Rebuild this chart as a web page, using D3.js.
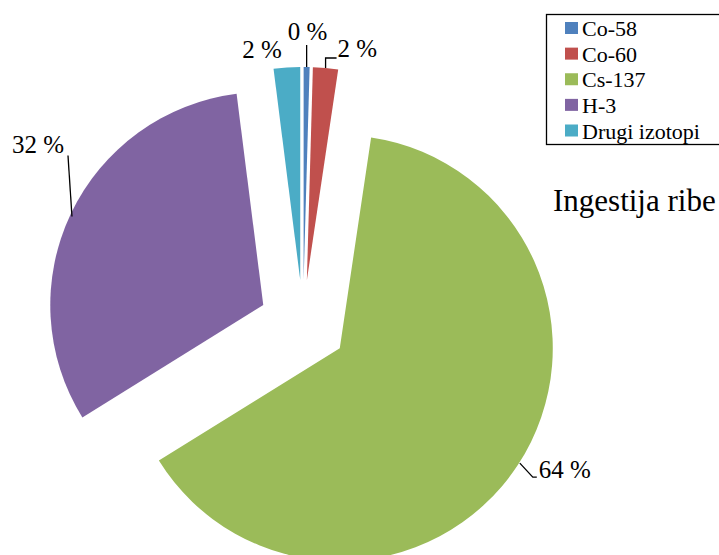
<!DOCTYPE html>
<html>
<head>
<meta charset="utf-8">
<script src="https://cdn.jsdelivr.net/npm/d3@7"></script>
<style>
  body { margin: 0; background: #fff; }
  svg { display: block; }
</style>
</head>
<body>
<div id="chart"></div>
<script>
// Chart data (percent shares)
const categories = ["Co-58", "Co-60", "Cs-137", "H-3", "Drugi izotopi"];
const values = [0.45, 1.9, 63.8, 31.85, 2.0];
const colors = ["#4F81BD", "#C0504D", "#9BBB59", "#8064A2", "#4BACC6"];
const chartTitle = "Ingestija ribe";

const serif = "'Liberation Serif', 'Times New Roman', Times, serif";

// label placement relative to the arc point (layout only)
// off = label anchor offset, lead = leader polyline offsets, anchor = text-anchor
const labelLayout = [
  {off: [1, -27], anchor: "middle", lead: [[0, 0], [0, -22]]},
  {off: [12, -11], anchor: "start", lead: [[0, 0], [0, -10], [11, -10]]},
  {off: [21, 13], anchor: "start", lead: [[2, -2], [15, 12], [19, 12]]},
  {off: [-7, -60], anchor: "end", lead: [[1, 3], [-3, -58]]},
  {off: [-5, -10], anchor: "end", lead: null}
];

const svgWidth = 719, svgHeight = 555;
const cx = 303, cy = 324, radius = 213, explode = 44;

const svg = d3.select("#chart").append("svg")
  .attr("width", svgWidth)
  .attr("height", svgHeight);

const pie = d3.pie().sort(null).value(d => d);
const arc = d3.arc().innerRadius(0).outerRadius(radius);
const arcs = pie(values);

const pt = (a, r) => [r * Math.sin(a), -r * Math.cos(a)];

const g = svg.append("g").attr("transform", `translate(${cx},${cy})`);

// slices, each pushed out along its mid angle
arcs.forEach((d, i) => {
  const mid = (d.startAngle + d.endAngle) / 2;
  const [ox, oy] = pt(mid, explode);
  g.append("path")
    .attr("d", arc(d))
    .attr("transform", `translate(${ox},${oy})`)
    .attr("fill", colors[i]);
});

// data labels with leader lines
const fmt = v => Math.round(v) + " %";
arcs.forEach((d, i) => {
  const mid = (d.startAngle + d.endAngle) / 2;
  const [ox, oy] = pt(mid, explode);
  const [px, py] = pt(mid, radius);
  const x0 = ox + px, y0 = oy + py;
  const lay = labelLayout[i];
  if (lay.lead) {
    g.append("polyline")
      .attr("points", lay.lead.map(p => (x0 + p[0]) + "," + (y0 + p[1])).join(" "))
      .attr("fill", "none")
      .attr("stroke", "#000")
      .attr("stroke-width", 1.3);
  }
  g.append("text")
    .attr("x", x0 + lay.off[0])
    .attr("y", y0 + lay.off[1])
    .attr("text-anchor", lay.anchor)
    .attr("font-family", serif)
    .attr("font-size", 25)
    .text(fmt(values[i]));
});

// title
svg.append("text")
  .attr("x", 553)
  .attr("y", 211)
  .attr("font-family", serif)
  .attr("font-size", 31)
  .text(chartTitle);

// legend
const legend = svg.append("g").attr("transform", "translate(546,14)");
legend.append("rect")
  .attr("x", 0.5).attr("y", 0.5)
  .attr("width", 190).attr("height", 130)
  .attr("fill", "#fff")
  .attr("stroke", "#000")
  .attr("stroke-width", 1.3);

const rowY = d3.scalePoint().domain(categories).range([22, 124.5]);
const item = legend.selectAll(".item")
  .data(categories)
  .enter().append("g")
  .attr("class", "item")
  .attr("transform", d => `translate(0,${rowY(d)})`);
item.append("rect")
  .attr("x", 19).attr("y", -14)
  .attr("width", 13).attr("height", 12)
  .attr("fill", (d, i) => colors[i]);
item.append("text")
  .attr("x", 36).attr("y", 0)
  .attr("font-family", serif)
  .attr("font-size", 22)
  .text(d => d);
</script>
</body>
</html>
